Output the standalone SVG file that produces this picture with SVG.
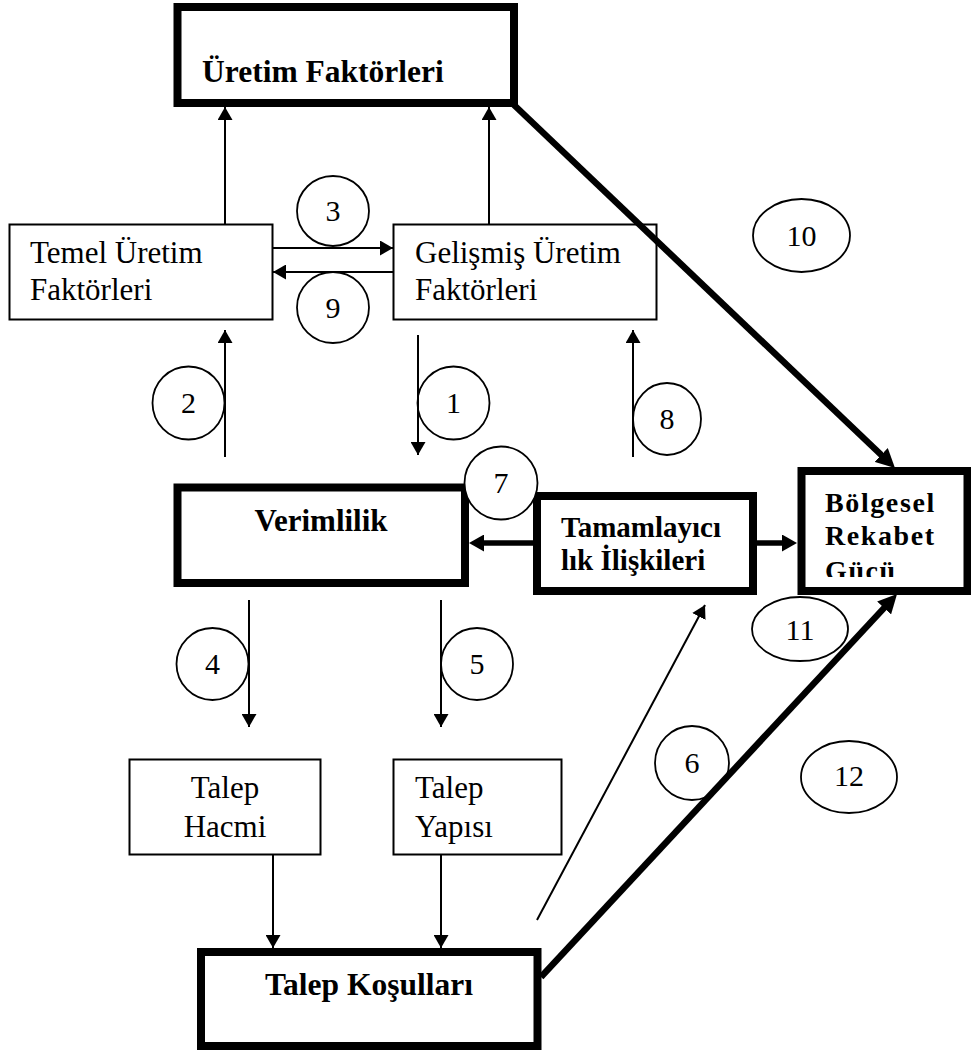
<svg xmlns="http://www.w3.org/2000/svg" width="971" height="1052" viewBox="0 0 971 1052">
<style>
.bg{fill:#fff}
.thick{fill:#fff;stroke:#000;stroke-width:8}
.thin{fill:#fff;stroke:#000;stroke-width:2}
.circ{fill:#fff;stroke:#000;stroke-width:1.8}
.t{font-family:"Liberation Serif","Times New Roman",serif;font-size:31px;fill:#000}
.b{font-family:"Liberation Serif","Times New Roman",serif;font-weight:bold;fill:#000}
.n{font-family:"Liberation Serif","Times New Roman",serif;font-size:30px;fill:#000;text-anchor:middle}
.c1{fill:none;stroke:#000;stroke-width:2}
.c2{fill:none;stroke:#000;stroke-width:5.5}
.c3{fill:none;stroke:#000;stroke-width:6.5}
</style>
<defs>
<marker id="ah" markerUnits="userSpaceOnUse" markerWidth="13" markerHeight="15" refX="13" refY="7.5" orient="auto"><path d="M0,0 L13,7.5 L0,15 z" fill="#000"/></marker>
<marker id="am" markerUnits="userSpaceOnUse" markerWidth="15" markerHeight="17" refX="7" refY="8.5" orient="auto"><path d="M0,0 L15,8.5 L0,17 z" fill="#000"/></marker>
<marker id="ab" markerUnits="userSpaceOnUse" markerWidth="19" markerHeight="19" refX="11" refY="9.5" orient="auto"><path d="M0,0 L19,9.5 L0,19 z" fill="#000"/></marker>
<clipPath id="clipB"><rect x="805" y="475" width="159" height="102"/></clipPath>
</defs>
<rect class="bg" x="0" y="0" width="971" height="1052"/>

<g id="uretim-faktorleri">
<rect class="thick" x="177.5" y="7" width="336.5" height="96"/>
<text class="b" x="202" y="82" font-size="31.5">Üretim Faktörleri</text>
</g>
<g id="temel">
<rect class="thin" x="9.5" y="224.5" width="263" height="95"/>
<text class="t" x="30" y="263">Temel Üretim</text>
<text class="t" x="30" y="300">Faktörleri</text>
</g>
<g id="gelismis">
<rect class="thin" x="393.5" y="224.5" width="263" height="95"/>
<text class="t" x="415" y="263">Gelişmiş Üretim</text>
<text class="t" x="415" y="300">Faktörleri</text>
</g>
<g id="verimlilik">
<rect class="thick" x="177.5" y="487.5" width="287.5" height="95.5"/>
<text class="b" x="321" y="531" font-size="31" text-anchor="middle">Verimlilik</text>
</g>
<g id="tamamlayicilik">
<rect class="thick" x="537" y="496" width="216" height="95"/>
<text class="b" x="561" y="537" font-size="29">Tamamlayıcı</text>
<text class="b" x="561" y="570" font-size="29">lık İlişkileri</text>
</g>
<g id="bolgesel">
<rect class="thick" x="801.5" y="471" width="166" height="120"/>
<g clip-path="url(#clipB)">
<text class="b" x="825" y="512" font-size="28" letter-spacing="1.6">Bölgesel</text>
<text class="b" x="825" y="545" font-size="28" letter-spacing="1.6">Rekabet</text>
<text class="b" x="825" y="580" font-size="28" letter-spacing="1.6">Gücü</text>
</g>
</g>
<g id="talep-hacmi">
<rect class="thin" x="129.5" y="759.5" width="191" height="95"/>
<text class="t" x="225" y="798" text-anchor="middle">Talep</text>
<text class="t" x="225" y="837" text-anchor="middle">Hacmi</text>
</g>
<g id="talep-yapisi">
<rect class="thin" x="393.5" y="759.5" width="168" height="95"/>
<text class="t" x="415" y="798">Talep</text>
<text class="t" x="415" y="837">Yapısı</text>
</g>
<g id="talep-kosullari">
<rect class="thick" x="201" y="952" width="336.5" height="94"/>
<text class="b" x="369" y="995" font-size="31.5" text-anchor="middle">Talep Koşulları</text>
</g>

<g id="labels">
<ellipse class="circ" cx="333" cy="211" rx="36" ry="35"/><text class="n" x="333" y="221">3</text>
<ellipse class="circ" cx="333" cy="307.5" rx="36" ry="35.5"/><text class="n" x="333" y="318">9</text>
<ellipse class="circ" cx="188.5" cy="403" rx="36" ry="36.5"/><text class="n" x="188.5" y="413">2</text>
<ellipse class="circ" cx="453.5" cy="403" rx="36" ry="36.5"/><text class="n" x="453.5" y="413">1</text>
<ellipse class="circ" cx="667" cy="419" rx="34" ry="36"/><text class="n" x="667" y="429">8</text>
<ellipse class="circ" cx="801.5" cy="235.5" rx="48.5" ry="36.5"/><text class="n" x="801.5" y="246">10</text>
<ellipse class="circ" cx="501" cy="483" rx="36.5" ry="36.5"/><text class="n" x="501" y="493">7</text>
<ellipse class="circ" cx="800" cy="629" rx="48" ry="32"/><text class="n" x="800" y="640">11</text>
<ellipse class="circ" cx="692" cy="763" rx="37" ry="37"/><text class="n" x="692" y="773">6</text>
<ellipse class="circ" cx="849" cy="777" rx="48" ry="36"/><text class="n" x="849" y="786" font-size="25">12</text>
<ellipse class="circ" cx="212.5" cy="664" rx="36" ry="36"/><text class="n" x="212.5" y="674">4</text>
<ellipse class="circ" cx="477" cy="664" rx="36" ry="36"/><text class="n" x="477" y="674">5</text>
</g>

<g id="connectors">
<line class="c1" x1="225" y1="224" x2="225" y2="107" marker-end="url(#ah)"/>
<line class="c1" x1="489" y1="224" x2="489" y2="107" marker-end="url(#ah)"/>
<line class="c1" x1="273" y1="248" x2="393" y2="248" marker-end="url(#ah)"/>
<line class="c1" x1="393" y1="272" x2="273" y2="272" marker-end="url(#ah)"/>
<line class="c1" x1="225" y1="457" x2="225" y2="330" marker-end="url(#ah)"/>
<line class="c1" x1="418" y1="335" x2="418" y2="455" marker-end="url(#ah)"/>
<line class="c1" x1="633" y1="457" x2="633" y2="330" marker-end="url(#ah)"/>
<line class="c1" x1="249" y1="600" x2="249" y2="727" marker-end="url(#ah)"/>
<line class="c1" x1="441" y1="600" x2="441" y2="727" marker-end="url(#ah)"/>
<line class="c1" x1="273" y1="855" x2="273" y2="948" marker-end="url(#ah)"/>
<line class="c1" x1="441" y1="855" x2="441" y2="948" marker-end="url(#ah)"/>
<line class="c1" x1="537" y1="920" x2="705" y2="605" marker-end="url(#ah)"/>
<line class="c2" x1="533" y1="543" x2="477" y2="543" marker-end="url(#am)"/>
<line class="c2" x1="757" y1="543" x2="789" y2="543" marker-end="url(#am)"/>
<line class="c3" x1="513" y1="104" x2="889.2" y2="462.5" marker-end="url(#ab)"/>
<line class="c3" x1="541" y1="977" x2="891.6" y2="599.9" marker-end="url(#ab)"/>
</g>
</svg>
